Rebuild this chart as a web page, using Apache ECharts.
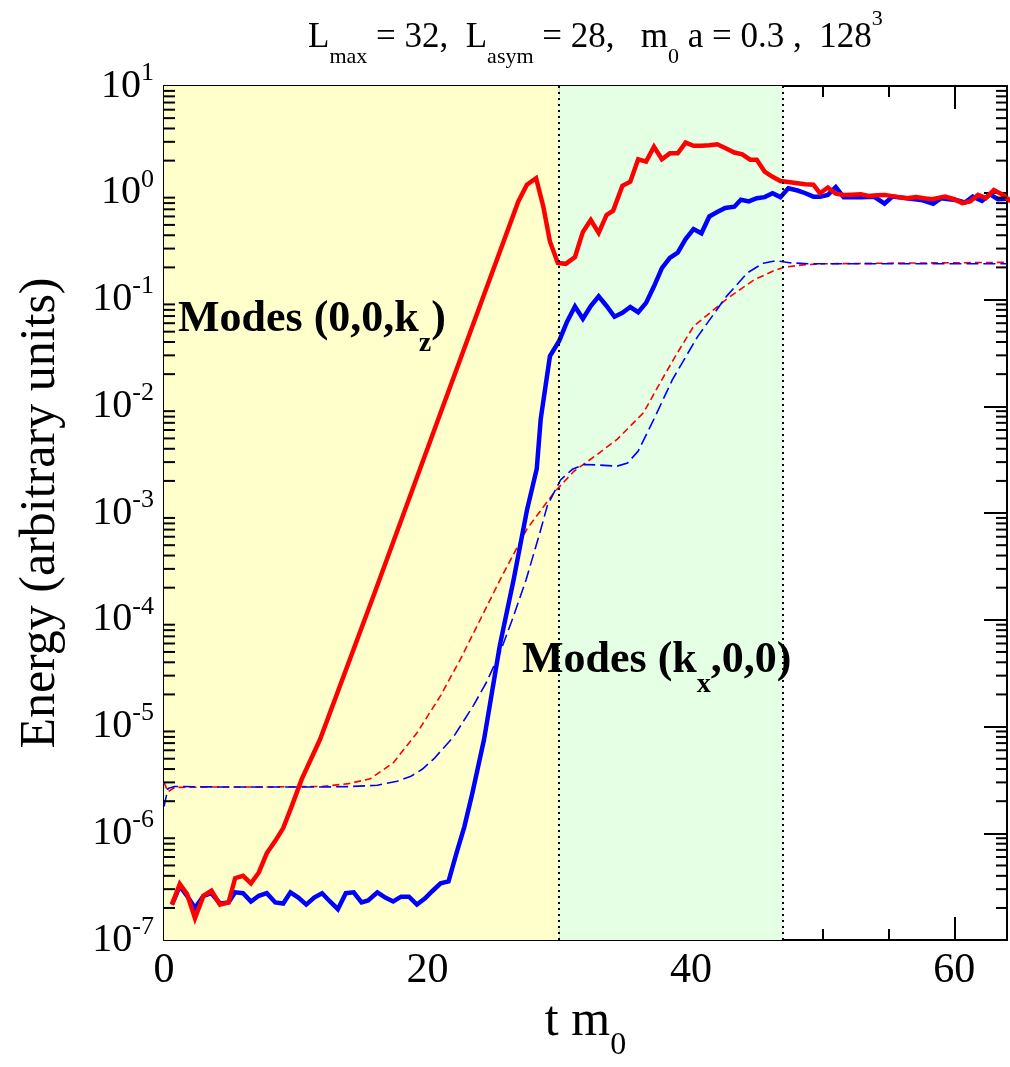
<!DOCTYPE html>
<html>
<head>
<meta charset="utf-8">
<script src="https://cdn.jsdelivr.net/npm/echarts@6/dist/echarts.min.js"></script>
<style>
html,body{margin:0;padding:0;background:#fff}
#main{width:1010px;height:1067px}
</style>
</head>
<body>
<div id="main"></div>
<script>
// modes (0,0,kz) - thick red
var tRedSolid = [0.6,1.2,1.75,2.35,3.0,3.6,4.25,4.9,5.4,6.0,
    6.6,7.2,7.8,8.45,9.05,9.7,10.45,11.85,16,21,
    26.9,27.55,28.25,28.8,29.3,29.9,30.5,31.2,31.8,32.4,
    33.0,33.6,34.1,34.8,35.4,36.0,36.6,37.2,37.8,38.4,
    39.0,39.6,40.2,40.8,41.4,42.0,42.6,43.3,43.9,44.5,
    45.0,45.6,46.2,46.8,47.4,48.1,48.7,49.3,49.8,50.4,
    51.0,51.6,52.2,52.9,53.5,54.1,54.7,55.3,55.8,56.4,
    57.1,57.7,58.3,58.7,59.3,60.0,60.6,61.2,61.8,62.4,
    63.0,63.7,64.3];
var eRedSolid = [2.15e-7,3.36e-7,2.7e-7,1.6e-7,2.6e-7,2.9e-7,2.15e-7,2.25e-7,3.8e-7,4.0e-7,
    3.4e-7,4.3e-7,6.5e-7,8.5e-7,1.12e-6,1.8e-6,3.2e-6,7.6e-6,1.8e-4,8.7e-3,
    0.83,1.19,1.37,0.74,0.35,0.22,0.216,0.25,0.43,0.556,
    0.42,0.62,0.68,1.16,1.27,2.06,1.96,2.7,2.06,2.34,
    2.34,2.95,2.75,2.75,2.79,2.85,2.63,2.38,2.29,2.04,
    2.04,1.58,1.41,1.29,1.26,1.23,1.2,1.19,0.99,1.12,
    0.98,0.955,0.96,0.97,0.935,0.95,0.955,0.93,0.91,0.89,
    0.91,0.89,0.87,0.89,0.92,0.87,0.80,0.83,0.955,0.89,
    1.06,0.955,0.83];

// modes (kx,0,0) - thick blue
var tBlueSolid = [0.6,1.2,1.75,2.35,3.0,3.6,4.25,4.9,5.4,6.0,
    6.6,7.2,7.8,8.45,9.05,9.6,10.2,10.8,11.4,12.0,
    12.6,13.2,13.8,14.4,15.0,15.5,16.2,16.8,17.4,18.0,
    18.6,19.2,19.8,20.4,21.0,21.6,22.2,22.8,23.4,24.3,
    25.5,26.55,27.56,28.3,28.6,29.3,30.0,30.6,31.2,31.8,
    32.4,33.0,33.6,34.2,34.8,35.4,36.0,36.6,37.2,37.8,
    38.4,39.0,39.6,40.2,40.8,41.4,42.0,42.6,43.3,43.8,
    44.4,45.0,45.6,46.2,46.8,47.4,48.1,48.7,49.3,49.8,
    50.4,51.0,51.6,52.2,52.9,53.9,54.7,55.3,56.4,57.6,
    58.4,59.0,60.2,60.8,61.4,62.1,62.7,63.3,64.0];
var eBlueSolid = [2.15e-7,3.2e-7,2.6e-7,2.0e-7,2.6e-7,2.75e-7,2.2e-7,2.25e-7,2.8e-7,2.75e-7,
    2.3e-7,2.6e-7,2.75e-7,2.25e-7,2.2e-7,2.8e-7,2.5e-7,2.15e-7,2.5e-7,2.75e-7,
    2.3e-7,1.95e-7,2.75e-7,2.8e-7,2.25e-7,2.35e-7,2.8e-7,2.5e-7,2.3e-7,2.55e-7,
    2.55e-7,2.15e-7,2.45e-7,2.9e-7,3.4e-7,3.55e-7,6.5e-7,1.15e-6,2.35e-6,7.6e-6,
    5.8e-5,2.4e-4,1.07e-3,2.6e-3,7.6e-3,2.95e-2,4.1e-2,6.2e-2,8.6e-2,6.6e-2,
    8.7e-2,0.107,8.7e-2,6.9e-2,7.5e-2,8.5e-2,7.6e-2,9.3e-2,0.133,0.197,
    0.245,0.275,0.368,0.457,0.417,0.60,0.66,0.72,0.74,0.86,
    0.83,0.89,0.91,0.99,0.91,1.10,1.05,0.99,0.92,0.92,
    0.955,1.13,0.91,0.91,0.91,0.92,0.79,0.92,0.89,0.85,
    0.79,0.89,0.85,0.81,0.92,0.84,0.97,0.87,0.88];

// thin dashed red
var tRedDash = [0,0.3,0.8,4,8,12,14,15.65,17.4,19.2,21,22.5,24,25.66,27.56,29.6,31.1,32.9,34.4,36.4,
    37.8,39.0,40.2,42.8,44.8,46.3,47.1,48.5,50,55,60,64];
var eRedDash = [3.0e-6,2.45e-6,2.69e-6,2.72e-6,2.72e-6,2.75e-6,2.92e-6,3.24e-6,4.57e-6,8.7e-6,
    1.95e-5,4.27e-5,1.0e-4,2.57e-4,7.1e-4,1.55e-3,2.45e-3,3.55e-3,4.9e-3,8.7e-3,
    1.78e-2,3.2e-2,5.6e-2,0.103,0.153,0.186,0.201,0.211,0.216,0.219,0.221,0.223];

// thin dashed blue
var tBlueDash = [0,0.3,0.8,4,8,12,14,16.2,17.7,18.7,19.6,20.5,22,23.5,24.5,25.5,26.5,27.5,28.5,29.1,30.1,31.0,
    31.9,33.0,34.4,35.2,36.0,37.2,38.6,40.5,42.7,44.3,45.5,46.5,47.5,49,55,64];
var eBlueDash = [1.78e-6,2.63e-6,2.75e-6,2.72e-6,2.72e-6,2.72e-6,2.74e-6,2.82e-6,3.08e-6,3.4e-6,3.98e-6,5.0e-6,
    8.1e-6,1.58e-5,2.63e-5,4.9e-5,1.05e-4,2.4e-4,6.3e-4,1.17e-3,2.04e-3,2.57e-3,
    2.85e-3,2.82e-3,2.75e-3,2.95e-3,3.8e-3,7.6e-3,1.78e-2,4.47e-2,0.107,0.178,0.219,
    0.231,0.221,0.216,0.216,0.216];

// shaded phases and their borders
var phaseYellow = [0, 30];
var phaseGreen = [30, 47];

var serif = '"Liberation Serif","Times New Roman",serif';

// log minor ticks 2..9 per decade
var logMinorTicks = [];
for (var d = -7; d < 1; d++) {
    for (var m = 2; m <= 9; m++) logMinorTicks.push(m * Math.pow(10, d));
}

function zip(t, e) {
    return t.map(function (v, i) { return [v, e[i]]; });
}

var chart = echarts.init(document.getElementById('main'));

var frameLine = {show: true, onZero: false, lineStyle: {color: '#000', width: 2}};
var majorTick = {show: true, inside: true, length: 23, lineStyle: {color: '#000', width: 2}};
var minorTickX = {show: true, inside: true, length: 11, lineStyle: {color: '#000', width: 2}};

function xAxisOf(pos, interval, tick, line, label) {
    return {
        type: 'value', min: 0, max: 64, interval: interval, position: pos,
        axisLine: line, axisTick: tick, splitLine: {show: false},
        axisLabel: label || {show: false}
    };
}

var xMain = xAxisOf('bottom', 20, majorTick, frameLine, {
    fontSize: 42, fontFamily: serif, color: '#000', margin: 10,
    formatter: function (v) { return v % 20 === 0 ? String(v) : ''; }
});
xMain.name = '{a|t m}{s|0}';
xMain.nameLocation = 'middle';
xMain.nameGap = 40;
xMain.nameTextStyle = {
    fontFamily: serif, color: '#000',
    rich: {
        a: {fontSize: 50, lineHeight: 80, fontFamily: serif, color: '#000'},
        s: {fontSize: 32, lineHeight: 32, verticalAlign: 'bottom', fontFamily: serif, color: '#000'}
    }
};

var yLabelRich = {
    b: {fontSize: 40, lineHeight: 52, fontFamily: serif, color: '#000'},
    sup: {fontSize: 26, lineHeight: 26, verticalAlign: 'top', fontFamily: serif, color: '#000'}
};

var annoRich = {
    s: {fontSize: 28, fontWeight: 'bold', lineHeight: 28, verticalAlign: 'bottom', fontFamily: serif, fill: '#000'}
};

var option = {
    animation: false,
    backgroundColor: '#fff',
    title: {
        text: 'L{sub|max} = 32,  L{sub|asym} = 28,   m{sub|0} a = 0.3 ,  128{sup|3}',
        left: 303, top: 3,
        textStyle: {
            fontFamily: serif, fontSize: 35, fontWeight: 'normal', color: '#000', lineHeight: 60,
            rich: {
                sub: {fontSize: 22, lineHeight: 22, verticalAlign: 'bottom', fontFamily: serif, color: '#000'},
                sup: {fontSize: 22, lineHeight: 22, verticalAlign: 'top', fontFamily: serif, color: '#000'}
            }
        }
    },
    grid: {left: 164, right: 2, top: 86, bottom: 126, containLabel: false},
    xAxis: [
        xMain,
        xAxisOf('top', 20, majorTick, frameLine),
        xAxisOf('bottom', 5, minorTickX, {show: false}),
        xAxisOf('top', 5, minorTickX, {show: false})
    ],
    yAxis: [
        {
            type: 'log', logBase: 10, min: 1e-7, max: 10, splitNumber: 8, position: 'left',
            axisLine: frameLine, axisTick: majorTick, splitLine: {show: false},
            axisLabel: {
                margin: 10, color: '#000', fontFamily: serif, fontSize: 40, rich: yLabelRich,
                showMinLabel: true, showMaxLabel: true,
                formatter: function (v) { return '{b|10}{sup|' + Math.round(Math.log10(v)) + '}'; }
            },
            name: 'Energy (arbitrary units)', nameLocation: 'middle', nameGap: 98, nameRotate: 90,
            nameTextStyle: {fontFamily: serif, fontSize: 50, color: '#000'}
        },
        {
            type: 'log', logBase: 10, min: 1e-7, max: 10, splitNumber: 8, position: 'right',
            axisLine: frameLine, axisTick: majorTick, splitLine: {show: false},
            axisLabel: {show: false}
        }
    ],
    graphic: [
        {
            type: 'text', left: 178, top: 282, z: 100,
            style: {
                text: 'Modes (0,0,k{s|z})', fill: '#000',
                fontFamily: serif, fontWeight: 'bold', fontSize: 44, lineHeight: 76, rich: annoRich
            }
        },
        {
            type: 'text', left: 522, top: 623, z: 100,
            style: {
                text: 'Modes (k{s|x},0,0)', fill: '#000',
                fontFamily: serif, fontWeight: 'bold', fontSize: 44, lineHeight: 76, rich: annoRich
            }
        }
    ],
    series: [
        {
            name: 'phases', type: 'line', data: [], z: 1, silent: true,
            markArea: {
                silent: true,
                data: [
                    [{xAxis: phaseYellow[0], itemStyle: {color: '#ffffcc'}}, {xAxis: phaseYellow[1]}],
                    [{xAxis: phaseGreen[0], itemStyle: {color: '#e5ffe5'}}, {xAxis: phaseGreen[1]}]
                ]
            },
            markLine: {
                silent: true, symbol: ['none', 'none'], label: {show: false},
                lineStyle: {color: '#000', type: [2, 4], width: 2},
                data: [{xAxis: phaseGreen[0]}, {xAxis: phaseGreen[1]}]
            }
        },
        {
            name: 'logMinor', type: 'custom', silent: true, z: 5,
            data: logMinorTicks.map(function (v) { return [0, v]; }),
            renderItem: function (params, api) {
                var y = api.coord([0, api.value(1)])[1];
                var cs = params.coordSys;
                return {
                    type: 'group',
                    children: [
                        {type: 'line', shape: {x1: cs.x, y1: y, x2: cs.x + 11, y2: y}, style: {stroke: '#000', lineWidth: 2}},
                        {type: 'line', shape: {x1: cs.x + cs.width - 11, y1: y, x2: cs.x + cs.width, y2: y}, style: {stroke: '#000', lineWidth: 2}}
                    ]
                };
            }
        },
        {
            name: 'redDash', type: 'line', data: zip(tRedDash, eRedDash), z: 3,
            showSymbol: false, symbol: 'none',
            lineStyle: {color: '#ff0000', width: 1.6, type: [7, 4]}
        },
        {
            name: 'blueDash', type: 'line', data: zip(tBlueDash, eBlueDash), z: 3,
            showSymbol: false, symbol: 'none',
            lineStyle: {color: '#0000ff', width: 1.6, type: [12, 5]}
        },
        {
            name: 'blueSolid', type: 'line', data: zip(tBlueSolid, eBlueSolid), z: 4,
            showSymbol: false, symbol: 'none',
            lineStyle: {color: '#0000ff', width: 4.5, join: 'miter'}
        },
        {
            name: 'redSolid', type: 'line', data: zip(tRedSolid, eRedSolid), z: 4,
            showSymbol: false, symbol: 'none',
            lineStyle: {color: '#ff0000', width: 4.5, join: 'miter'}
        }
    ]
};

chart.setOption(option);
</script>
</body>
</html>
